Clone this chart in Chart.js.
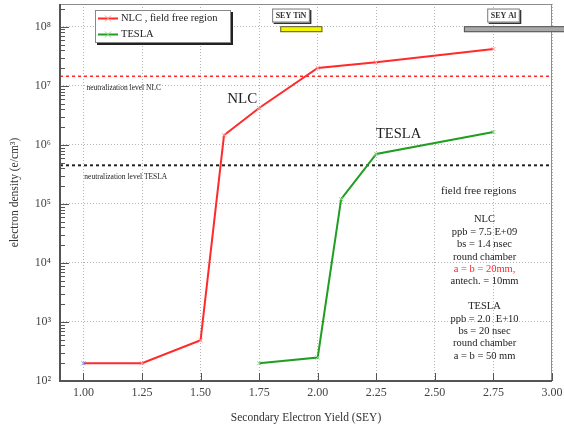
<!DOCTYPE html>
<html>
<head>
<meta charset="utf-8">
<script src="https://cdn.jsdelivr.net/npm/chart.js@4.4.0/dist/chart.umd.min.js"></script>
<style>
  html, body { margin: 0; padding: 0; background: #fff; }
  #wrap { width: 564px; height: 430px; }
</style>
</head>
<body>
<div id="wrap"><canvas id="chart"></canvas></div>
<script>
// data
const nlcSey = [1.00, 1.25, 1.50, 1.60, 1.75, 2.00, 2.25, 2.75];
const nlcDensity = [2.0e2, 2.0e2, 4.9e2, 1.45e6, 4.2e6, 2.0e7, 2.5e7, 4.2e7];
const teslaSey = [1.75, 2.00, 2.10, 2.25, 2.75];
const teslaDensity = [2.0e2, 2.5e2, 1.2e5, 7.0e5, 1.65e6];
const neutralNlc = 1.45e7;
const neutralTesla = 4.5e5;
const seyTiN = [1.84, 2.02];
const seyAl = [2.624, 3.1];
const xTicks = [1.00, 1.25, 1.50, 1.75, 2.00, 2.25, 2.50, 2.75, 3.00];
const yTicks = [1e2, 1e3, 1e4, 1e5, 1e6, 1e7, 1e8];
const supers = { 2: '²', 3: '³', 4: '⁴', 5: '⁵', 6: '⁶', 7: '⁷', 8: '⁸' };
const infoLines = ['NLC', 'ppb = 7.5 E+09', 'bs = 1.4 nsec', 'round chamber', 'a = b = 20mm,',
  'antech. = 10mm', '', 'TESLA', 'ppb = 2.0  E+10', 'bs = 20 nsec', 'round chamber', 'a = b = 50 mm'];
const infoRedLine = 4;

const serif = '"Liberation Serif", "Times New Roman", serif';
const red = '#ff2a2a';
const green = '#1f9e1f';

function pts(xs, ys) {
  return xs.map((v, i) => ({ x: v, y: ys[i] }));
}

// annotations, legend, frame and inside ticks
const overlay = {
  id: 'overlay',
  afterDatasetsDraw(chart) {
    const { ctx, chartArea: a, scales: { x, y } } = chart;
    ctx.save();

    // frame
    ctx.strokeStyle = '#8c8c8c';
    ctx.lineWidth = 1;
    ctx.strokeRect(a.left + 0.5, a.top + 0.5, a.right - a.left - 1, a.bottom - a.top - 1);
    ctx.strokeStyle = '#555';
    ctx.lineWidth = 2;
    ctx.beginPath();
    ctx.moveTo(a.left, a.top);
    ctx.lineTo(a.left, a.bottom);
    ctx.lineTo(a.right, a.bottom);
    ctx.stroke();

    // inside ticks
    ctx.lineWidth = 1;
    ctx.beginPath();
    for (let d = 2; d <= 8; d++) {
      for (let m = 1; m <= 9; m++) {
        const v = m * Math.pow(10, d);
        if (v > y.max) break;
        const py = Math.round(y.getPixelForValue(v)) + 0.5;
        ctx.moveTo(a.left, py);
        ctx.lineTo(a.left + (m === 1 ? 9 : 5), py);
      }
    }
    xTicks.forEach(v => {
      const px = Math.round(x.getPixelForValue(v)) + 0.5;
      ctx.moveTo(px, a.bottom);
      ctx.lineTo(px, a.bottom - 8);
    });
    ctx.stroke();

    // texts in the plot
    ctx.fillStyle = '#222';
    ctx.textBaseline = 'middle';
    ctx.textAlign = 'left';
    ctx.font = '7.5px ' + serif;
    ctx.fillText('neutralization level NLC', x.getPixelForValue(1.013), y.getPixelForValue(9.25e6));
    ctx.fillText('neutralization level TESLA', x.getPixelForValue(1.004), y.getPixelForValue(2.9e5));

    ctx.textAlign = 'center';
    ctx.font = '15px ' + serif;
    ctx.fillText('NLC', x.getPixelForValue(1.678), y.getPixelForValue(6e6));
    ctx.font = '14.5px ' + serif;
    ctx.fillText('TESLA', x.getPixelForValue(2.345), y.getPixelForValue(1.5e6));
    ctx.font = '11px ' + serif;
    ctx.fillText('field free regions', x.getPixelForValue(2.687), y.getPixelForValue(1.66e5));

    ctx.font = '10.5px ' + serif;
    const ix = x.getPixelForValue(2.712);
    const iy = y.getPixelForValue(5.4e4);
    infoLines.forEach((t, i) => {
      ctx.fillStyle = i === infoRedLine ? red : '#222';
      ctx.fillText(t, ix, iy + i * 12.4);
    });

    // legend
    const lx = a.left + 35, ly = a.top + 6, lw = 136, lh = 33;
    ctx.fillStyle = '#222';
    ctx.fillRect(lx + 2, ly + 2, lw, lh);
    ctx.fillStyle = '#fff';
    ctx.fillRect(lx, ly, lw, lh);
    ctx.strokeStyle = '#888';
    ctx.strokeRect(lx + 0.5, ly + 0.5, lw - 1, lh - 1);
    [['NLC , field free region', red, '#ff9a9a'], ['TESLA', green, '#8fd88f']].forEach((e, i) => {
      const ey = ly + 8.5 + i * 16;
      ctx.strokeStyle = e[1];
      ctx.lineWidth = 2;
      ctx.beginPath();
      ctx.moveTo(lx + 3, ey);
      ctx.lineTo(lx + 23, ey);
      ctx.stroke();
      ctx.strokeStyle = e[2];
      ctx.lineWidth = 1;
      ctx.beginPath();
      ctx.moveTo(lx + 10, ey - 3); ctx.lineTo(lx + 16, ey + 3);
      ctx.moveTo(lx + 10, ey + 3); ctx.lineTo(lx + 16, ey - 3);
      ctx.stroke();
      ctx.fillStyle = '#222';
      ctx.textAlign = 'left';
      ctx.font = '10.5px ' + serif;
      ctx.fillText(e[0], lx + 26, ey);
    });

    // SEY bars
    const barY = y.getPixelForValue(9.1e7);
    const bar = (range, fill) => {
      const x0 = x.getPixelForValue(range[0]);
      const x1 = Math.min(x.getPixelForValue(range[1]), chart.width + 2);
      ctx.fillStyle = fill;
      ctx.fillRect(x0, barY - 3, x1 - x0, 6);
      ctx.strokeStyle = '#555';
      ctx.lineWidth = 1;
      ctx.strokeRect(x0 + 0.5, barY - 2.5, x1 - x0 - 1, 5);
    };
    bar(seyTiN, '#f5f500');
    bar(seyAl, '#a8a8a8');

    const tag = (text, cx) => {
      ctx.font = 'bold 8px ' + serif;
      const w = ctx.measureText(text).width + 7;
      const bx = x.getPixelForValue(cx) - w / 2;
      const by = y.getPixelForValue(1.55e8) - 7;
      ctx.fillStyle = '#333';
      ctx.fillRect(bx + 1.5, by + 1.5, w, 14);
      ctx.fillStyle = '#fff';
      ctx.fillRect(bx, by, w, 14);
      ctx.strokeStyle = '#777';
      ctx.strokeRect(bx + 0.5, by + 0.5, w - 1, 13);
      ctx.fillStyle = '#333';
      ctx.textAlign = 'center';
      ctx.fillText(text, bx + w / 2, by + 7.5);
    };
    tag('SEY TiN', 1.886);
    tag('SEY Al', 2.793);

    ctx.restore();
  }
};

new Chart(document.getElementById('chart'), {
  type: 'line',
  data: {
    datasets: [
      {
        label: 'NLC , field free region',
        data: pts(nlcSey, nlcDensity),
        borderColor: red,
        borderWidth: 2,
        pointStyle: 'crossRot',
        pointRadius: 3,
        pointBorderWidth: 1,
        pointBorderColor: nlcSey.map((_, i) => i === 0 ? '#7f9cf0' : '#ff9a9a'),
        tension: 0
      },
      {
        label: 'TESLA',
        data: pts(teslaSey, teslaDensity),
        borderColor: green,
        borderWidth: 2,
        pointStyle: 'crossRot',
        pointRadius: 3,
        pointBorderWidth: 1,
        pointBorderColor: '#8fd88f',
        tension: 0
      },
      {
        label: 'neutralization level NLC',
        data: [{ x: 0.9, y: neutralNlc }, { x: 3.0, y: neutralNlc }],
        borderColor: red,
        borderWidth: 1.5,
        borderDash: [3, 3],
        pointRadius: 0
      },
      {
        label: 'neutralization level TESLA',
        data: [{ x: 0.9, y: neutralTesla }, { x: 3.0, y: neutralTesla }],
        borderColor: '#222',
        borderWidth: 2,
        borderDash: [3, 3],
        pointRadius: 0
      }
    ]
  },
  options: {
    responsive: true,
    maintainAspectRatio: false,
    animation: false,
    layout: { padding: { left: 0, right: 12, top: 4, bottom: 0 }, autoPadding: false },
    plugins: { legend: { display: false }, tooltip: { enabled: false } },
    scales: {
      x: {
        type: 'linear',
        min: 0.9,
        max: 3.0,
        afterBuildTicks: s => { s.ticks = xTicks.map(v => ({ value: v })); },
        afterFit: s => { s.height = 49; s.paddingLeft = 0; s.paddingRight = 0; },
        ticks: {
          callback: v => v.toFixed(2),
          color: '#444',
          font: { family: serif, size: 12 },
          padding: 5,
          maxRotation: 0,
          autoSkip: false
        },
        grid: { color: '#b4b4b4', lineWidth: 1, drawTicks: false },
        border: { display: false, dash: [1, 2] },
        title: {
          display: true,
          text: 'Secondary Electron Yield (SEY)',
          color: '#333',
          font: { family: serif, size: 11.5 },
          padding: { top: 0, bottom: 5 }
        }
      },
      y: {
        type: 'logarithmic',
        min: 1e2,
        max: 2.43e8,
        afterBuildTicks: s => { s.ticks = yTicks.map(v => ({ value: v })); },
        afterFit: s => { s.width = 60; s.paddingTop = 0; s.paddingBottom = 0; },
        ticks: {
          callback: v => '10' + supers[Math.round(Math.log10(v))],
          color: '#444',
          font: { family: serif, size: 12 },
          padding: 9,
          autoSkip: false
        },
        grid: { color: '#b4b4b4', lineWidth: 1, drawTicks: false },
        border: { display: false, dash: [1, 2] },
        title: {
          display: true,
          text: 'electron density (e/cm³)',
          color: '#333',
          font: { family: serif, size: 11.5 },
          padding: { top: 8, bottom: 0 }
        }
      }
    }
  },
  plugins: [overlay]
});
</script>
</body>
</html>
